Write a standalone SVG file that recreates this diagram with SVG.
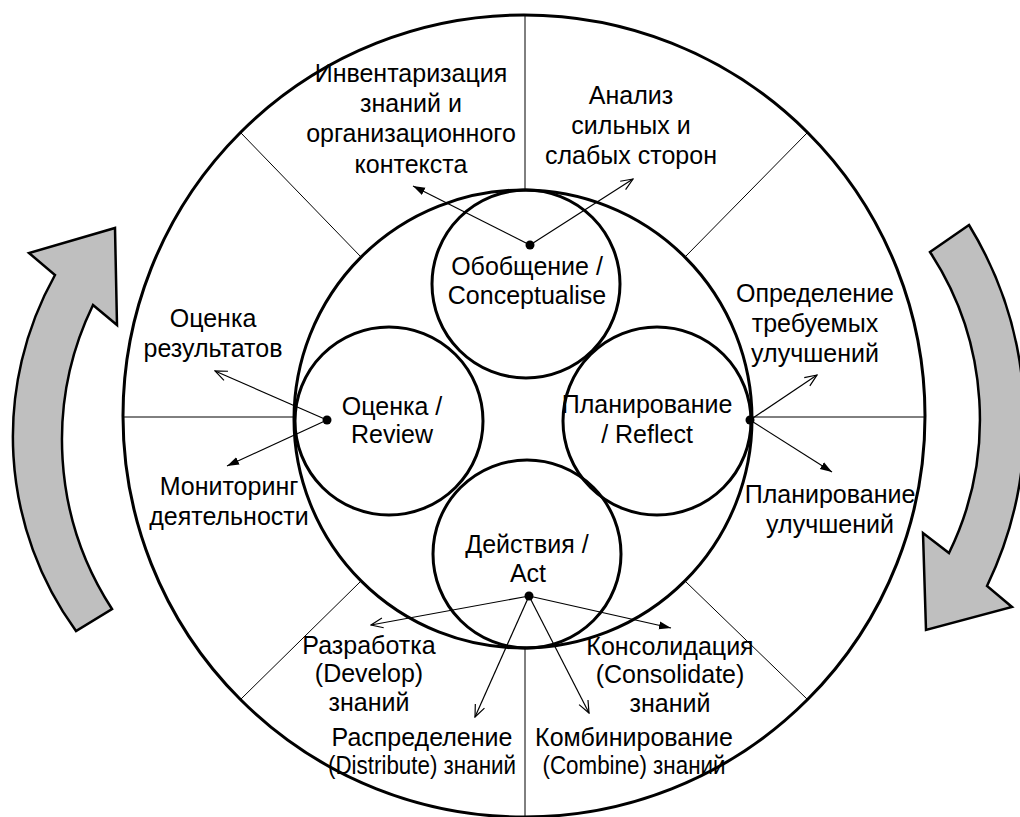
<svg xmlns="http://www.w3.org/2000/svg" width="1020" height="817" viewBox="0 0 1020 817">
<style>
.lbl{font-family:"Liberation Sans",Arial,Helvetica,sans-serif;font-size:25px;fill:#000;text-anchor:middle}
.ring{fill:none;stroke:#000;stroke-width:3}
.rad{stroke:#000;stroke-width:1;fill:none}
.con{stroke:#000;stroke-width:1.2;fill:none}
.big{fill:#bfbfbf;stroke:#000;stroke-width:2.5;stroke-linejoin:miter}
.dot{fill:#000}
</style>
<defs>
<marker id="open" markerUnits="userSpaceOnUse" viewBox="0 0 14 12" refX="13" refY="6" markerWidth="14" markerHeight="12" orient="auto"><path d="M1,1 L13,6 L1,11" fill="none" stroke="#000" stroke-width="1.2"/></marker>
<marker id="fill" markerUnits="userSpaceOnUse" viewBox="0 0 12 10" refX="12" refY="5" markerWidth="12" markerHeight="10" orient="auto"><path d="M0,1 L12,5 L0,9 Z" fill="#000"/></marker>
</defs>
<rect width="1020" height="817" fill="#fff"/>

<g id="cycle-arrows">
<path class="big" d="M76,631 A331,331 0 0 1 55,275 L29,253 L115,228 L117,325 L93,305 A310,310 0 0 0 112,609 Z"/>
<path class="big" d="M930,252 L969,225 A378,378 0 0 1 987,586 L1012,607 L926,630 L923,533 L949,553 A305,305 0 0 0 930,252 Z"/>
</g>

<g id="frame">
<circle class="ring" cx="524" cy="416" r="401"/>
<circle class="ring" cx="523" cy="419" r="229"/>
<line class="rad" x1="525" y1="15" x2="525" y2="190"/>
<line class="rad" x1="525" y1="648" x2="525" y2="817"/>
<line class="rad" x1="123" y1="417" x2="294" y2="417"/>
<line class="rad" x1="752" y1="417" x2="925" y2="417"/>
<line class="rad" x1="241" y1="133" x2="361" y2="257"/>
<line class="rad" x1="807" y1="133" x2="685" y2="257"/>
<line class="rad" x1="241" y1="699" x2="361" y2="581"/>
<line class="rad" x1="807" y1="699" x2="685" y2="581"/>
</g>

<g id="node-conceptualise">
<circle class="ring" cx="526" cy="284" r="94"/>
<text class="lbl" x="527" y="275">Обобщение /</text>
<text class="lbl" x="527" y="304">Conceptualise</text>
</g>
<g id="node-review">
<circle class="ring" cx="389" cy="421" r="94"/>
<text class="lbl" x="392" y="415">Оценка /</text>
<text class="lbl" x="392" y="443">Review</text>
</g>
<g id="node-reflect">
<circle class="ring" cx="657" cy="421" r="94"/>
<text class="lbl" x="647" y="413">Планирование</text>
<text class="lbl" x="647" y="443">/ Reflect</text>
</g>
<g id="node-act">
<circle class="ring" cx="527" cy="554" r="94"/>
<text class="lbl" x="527" y="553">Действия /</text>
<text class="lbl" x="528" y="582">Act</text>
</g>

<g id="label-inventory">
<text class="lbl" x="411" y="82">Инвентаризация</text>
<text class="lbl" x="411" y="112">знаний и</text>
<text class="lbl" x="411" y="142">организационного</text>
<text class="lbl" x="411" y="173">контекста</text>
</g>
<g id="label-swot">
<text class="lbl" x="631" y="104">Анализ</text>
<text class="lbl" x="631" y="134">сильных и</text>
<text class="lbl" x="631" y="164">слабых сторон</text>
</g>
<g id="label-results">
<text class="lbl" x="213" y="327">Оценка</text>
<text class="lbl" x="213" y="357">результатов</text>
</g>
<g id="label-monitoring">
<text class="lbl" x="229" y="495">Мониторинг</text>
<text class="lbl" x="229" y="525">деятельности</text>
</g>
<g id="label-define">
<text class="lbl" x="815" y="302">Определение</text>
<text class="lbl" x="815" y="332">требуемых</text>
<text class="lbl" x="815" y="362">улучшений</text>
</g>
<g id="label-plan">
<text class="lbl" x="830" y="503">Планирование</text>
<text class="lbl" x="830" y="533">улучшений</text>
</g>
<g id="label-develop">
<text class="lbl" x="369" y="654">Разработка</text>
<text class="lbl" x="369" y="682">(Develop)</text>
<text class="lbl" x="369" y="711">знаний</text>
</g>
<g id="label-consolidate">
<text class="lbl" x="670" y="655">Консолидация</text>
<text class="lbl" x="670" y="683">(Consolidate)</text>
<text class="lbl" x="670" y="712">знаний</text>
</g>
<g id="label-distribute">
<text class="lbl" x="422" y="746">Распределение</text>
<text class="lbl" x="422" y="774" textLength="188" lengthAdjust="spacingAndGlyphs">(Distribute) знаний</text>
</g>
<g id="label-combine">
<text class="lbl" x="634" y="746">Комбинирование</text>
<text class="lbl" x="634" y="774" textLength="183" lengthAdjust="spacingAndGlyphs">(Combine) знаний</text>
</g>

<g id="connectors">
<line class="con" x1="530" y1="245" x2="413" y2="186" marker-end="url(#fill)"/>
<line class="con" x1="530" y1="245" x2="633" y2="179" marker-end="url(#open)"/>
<line class="con" x1="327" y1="420" x2="215" y2="371" marker-end="url(#open)"/>
<line class="con" x1="327" y1="420" x2="227" y2="466" marker-end="url(#fill)"/>
<line class="con" x1="750" y1="420" x2="817" y2="375" marker-end="url(#open)"/>
<line class="con" x1="750" y1="420" x2="832" y2="472" marker-end="url(#fill)"/>
<line class="con" x1="529" y1="596" x2="371" y2="625" marker-end="url(#open)"/>
<line class="con" x1="529" y1="596" x2="671" y2="628" marker-end="url(#fill)"/>
<line class="con" x1="529" y1="596" x2="475" y2="717" marker-end="url(#open)"/>
<line class="con" x1="529" y1="596" x2="589" y2="713" marker-end="url(#open)"/>
<circle class="dot" cx="530" cy="245" r="4.5"/>
<circle class="dot" cx="327" cy="420" r="4.5"/>
<circle class="dot" cx="750" cy="420" r="4.5"/>
<circle class="dot" cx="529" cy="596" r="4.5"/>
</g>
</svg>
